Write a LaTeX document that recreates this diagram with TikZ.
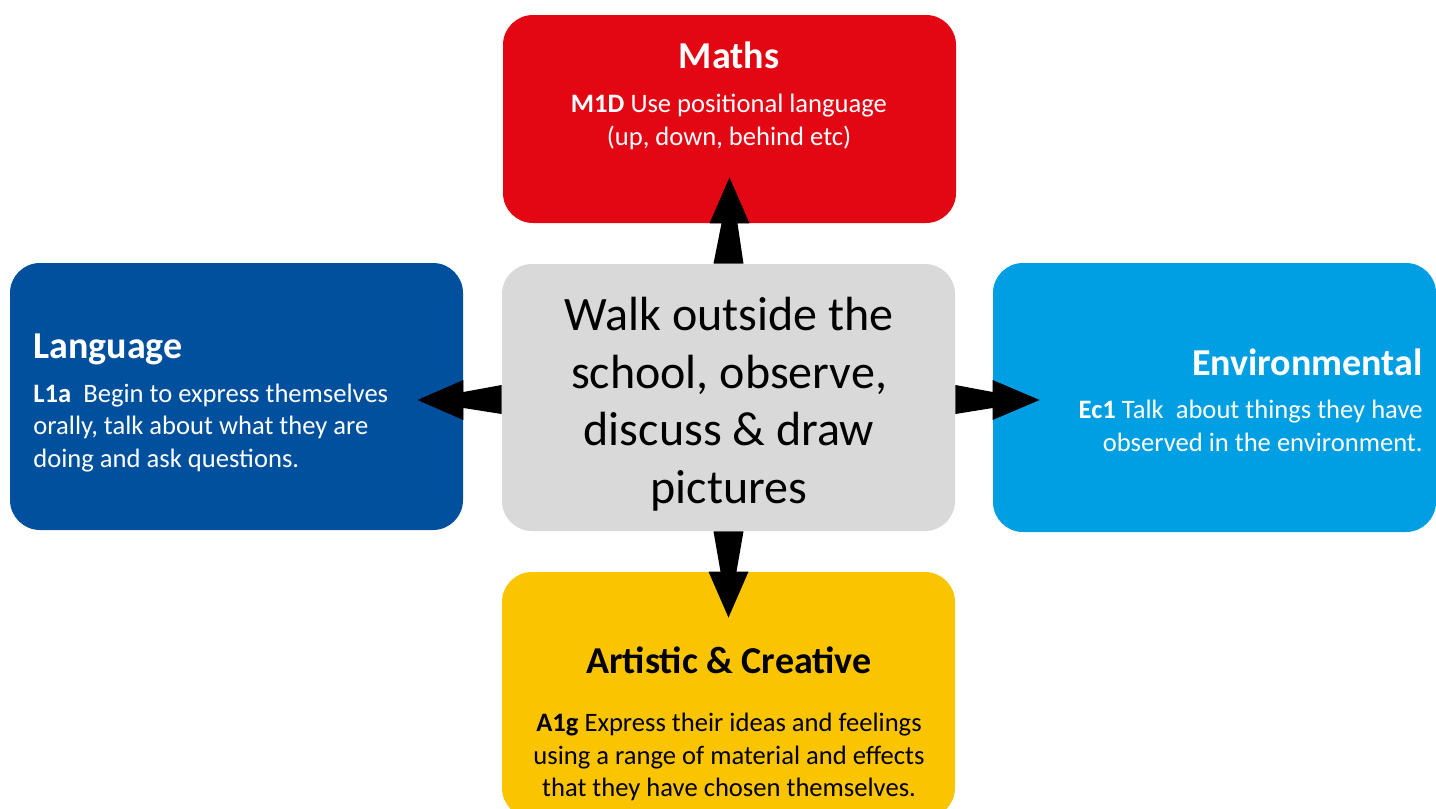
\documentclass[tikz,border=0pt]{standalone}
\usepackage{fontspec}
\setmainfont{Carlito}
\usetikzlibrary{fit,calc}
\definecolor{mred}{HTML}{E30613}
\definecolor{ldblue}{HTML}{00509E}
\definecolor{elblue}{HTML}{009FE3}
\definecolor{ayellow}{HTML}{FBC400}
\definecolor{cgray}{HTML}{D9D9D9}
\begin{document}
\begin{tikzpicture}[x=0.5pt,y=-0.5pt,
  box/.style={rectangle, rounded corners=15pt, inner sep=0pt, draw=none},
  ttl/.style={inner sep=0pt, font=\fontsize{19}{23}\selectfont\bfseries},
  bodytxt/.style={inner sep=0pt, font=\fontsize{13.3}{16.2}\selectfont},
  arr/.style={fill=black}]
\useasboundingbox (0,0) rectangle (1436,809);
\clip (0,0) rectangle (1436,809);
% boxes
\node[box, fill=mred, fit={(503,15)(956,223)}] (maths) {};
\node[box, fill=ldblue, fit={(10,263)(463,530)}] (lang) {};
\node[box, fill=cgray, fit={(502,264)(955,531)}] (center) {};
\node[box, fill=elblue, fit={(993,263)(1436,532)}] (env) {};
\node[box, fill=ayellow, fit={(502,572)(955,818)}] (art) {};
% center text
\node[inner sep=0pt, align=center, font=\fontsize{24}{28.8}\selectfont] (ctext) at (729,404) {Walk outside the\\school, observe,\\discuss \& draw\\pictures};
% maths
\node[ttl, text=white] (mathstitle) at (729,55) {Maths};
\node[bodytxt, text=white, align=center] (mathsbody) at (729,122) {\textbf{M1D} Use positional language\\(up, down, behind etc)};
% language
\node[ttl, text=white, anchor=west] (langtitle) at (33,349) {Language};
\node[bodytxt, text=white, align=left, anchor=west] (langbody) at (33,428) {\textbf{L1a}~ Begin to express themselves\\orally, talk about what they are\\doing and ask questions.};
% environmental
\node[ttl, text=white, anchor=east] (envtitle) at (1423,362) {Environmental};
\node[bodytxt, text=white, align=right, anchor=east] (envbody) at (1423,426) {\textbf{Ec1} Talk~ about things they have\\observed in the environment.};
% artistic
\node[ttl, anchor=center] (arttitle) at (729,660) {Artistic \& Creative};
\node[bodytxt, align=center] (artbody) at (729,757) {\textbf{A1g} Express their ideas and feelings\\using a range of material and effects\\that they have chosen themselves.};
% arrows
\fill[arr] ($(center.north)+(-15,0)$) -- ($(maths.south)+(-8,0)$) -- ($(maths.south)+(-20,0)$) -- ($(maths.south)+(0,-46)$) -- ($(maths.south)+(20,0)$) -- ($(maths.south)+(8,0)$) -- ($(center.north)+(15,0)$) -- cycle;
\fill[arr] ($(center.south)+(-15,0)$) -- ($(art.north)+(-8,0)$) -- ($(art.north)+(-20,0)$) -- ($(art.north)+(0,46)$) -- ($(art.north)+(20,0)$) -- ($(art.north)+(8,0)$) -- ($(center.south)+(15,0)$) -- cycle;
\fill[arr] ($(center.west)+(0,-12.5)$) -- ($(lang.east)+(0,-4.5)$) -- ($(lang.east)+(0,-16.5)$) -- ($(lang.east)+(-46,3.5)$) -- ($(lang.east)+(0,23.5)$) -- ($(lang.east)+(0,11.5)$) -- ($(center.west)+(0,16.5)$) -- cycle;
\fill[arr] ($(center.east)+(0,-12.5)$) -- ($(env.west)+(0,-5.5)$) -- ($(env.west)+(0,-17.5)$) -- ($(env.west)+(47,2.5)$) -- ($(env.west)+(0,22.5)$) -- ($(env.west)+(0,10.5)$) -- ($(center.east)+(0,16.5)$) -- cycle;
\end{tikzpicture}
\end{document}
